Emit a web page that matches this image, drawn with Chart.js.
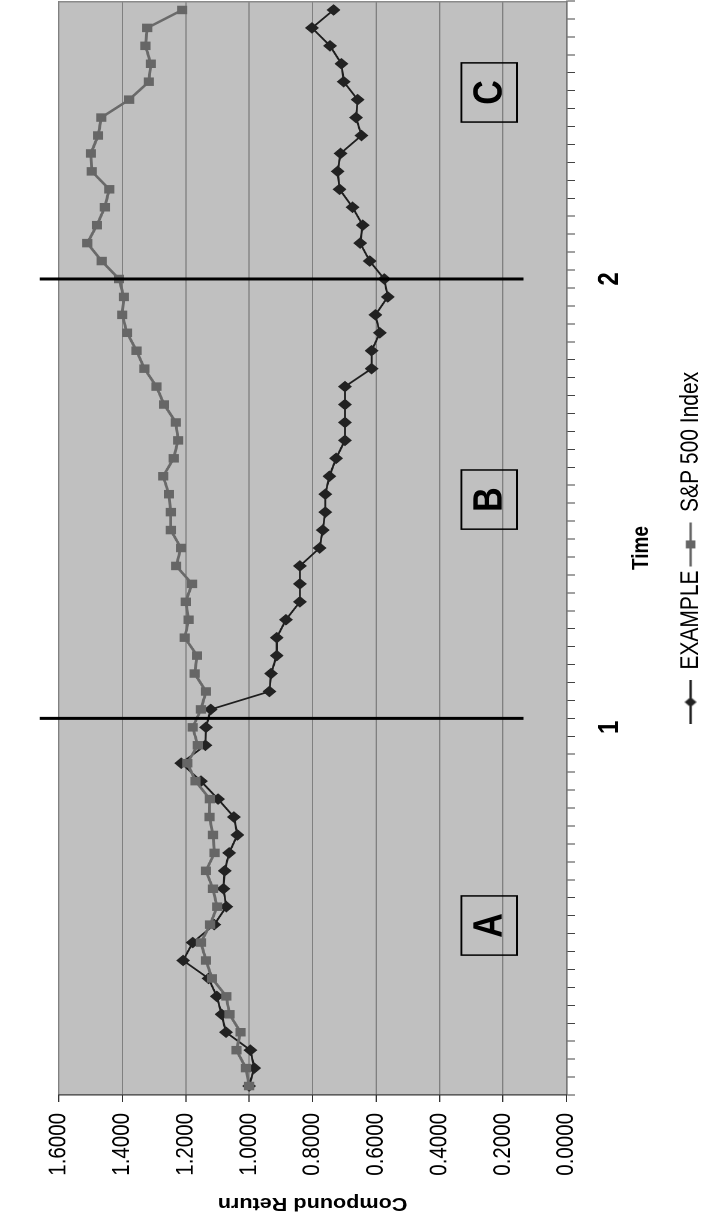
<!DOCTYPE html>
<html>
<head>
<meta charset="utf-8">
<script src="https://cdn.jsdelivr.net/npm/chart.js@4.4.0/dist/chart.umd.min.js"></script>
<style>
  html, body { margin: 0; padding: 0; background: #fff; width: 709px; height: 1221px; overflow: hidden; }
  /* the chart is laid out landscape and turned a quarter turn, with a slight stretch across */
  #wrap { position: absolute; left: 0; top: 0; width: 1221px; height: 591px;
          transform-origin: 0 0; transform: matrix(0, -1, 1.2, 0, 0, 1221); }
</style>
</head>
<body>
<div id="wrap"><canvas id="c" width="1221" height="591"></canvas></div>
<script>
// Time periods (only two of them carry a label)
const timeLabels = [
  '', '', '', '', '', '', '', '', '', '',
  '', '', '', '', '', '', '', '', '', '',
  '1', '', '', '', '', '', '', '', '', '',
  '', '', '', '', '', '', '', '', '', '',
  '', '', '', '', '', '2', '', '', '', '',
  '', '', '', '', '', '', '', '', '', '',
  ''
];

// Compound return of the example portfolio
const exampleReturns = [
  1.000, 0.984, 0.996, 1.073, 1.087, 1.102, 1.128, 1.208, 1.178, 1.110,
  1.072, 1.081, 1.077, 1.063, 1.037, 1.048, 1.098, 1.152, 1.214, 1.138,
  1.136, 1.121, 0.936, 0.931, 0.913, 0.913, 0.884, 0.840, 0.840, 0.840,
  0.778, 0.768, 0.760, 0.760, 0.747, 0.726, 0.698, 0.698, 0.698, 0.698,
  0.614, 0.614, 0.588, 0.602, 0.563, 0.574, 0.620, 0.650, 0.642, 0.674,
  0.715, 0.721, 0.712, 0.646, 0.663, 0.658, 0.702, 0.709, 0.745, 0.802,
  0.734
];

// Compound return of the S&P 500 Index
const sp500Returns = [
  1.000, 1.010, 1.040, 1.027, 1.062, 1.072, 1.117, 1.136, 1.152, 1.123,
  1.101, 1.114, 1.136, 1.109, 1.114, 1.125, 1.124, 1.169, 1.195, 1.162,
  1.178, 1.152, 1.136, 1.172, 1.164, 1.203, 1.191, 1.200, 1.180, 1.230,
  1.215, 1.247, 1.247, 1.253, 1.271, 1.238, 1.224, 1.231, 1.268, 1.292,
  1.330, 1.355, 1.385, 1.400, 1.395, 1.410, 1.465, 1.510, 1.480, 1.455,
  1.441, 1.496, 1.499, 1.476, 1.466, 1.378, 1.316, 1.310, 1.327, 1.321,
  1.211
];

const seriesNames = ['EXAMPLE', 'S&P 500 Index'];

// Phase markers: period positions of the dividing lines and the lettered boxes
const phaseBreaks = [20.5, 45];
const phaseLetters = ['A', 'B', 'C'];
const phaseCenters = [8.95, 32.7, 55.4];

const FONT = "'Liberation Sans', Arial, sans-serif";

function legendGlyph(kind, fill, line) {
  const c = document.createElement('canvas');
  c.width = 44; c.height = 14;
  const g = c.getContext('2d');
  g.strokeStyle = line; g.lineWidth = 2;
  g.beginPath(); g.moveTo(0, 7); g.lineTo(44, 7); g.stroke();
  g.fillStyle = fill;
  if (kind === 'diamond') {
    g.beginPath(); g.moveTo(22, 2); g.lineTo(27, 7); g.lineTo(22, 12); g.lineTo(17, 7); g.closePath(); g.fill();
  } else {
    g.fillRect(18, 3, 8, 8);
  }
  return c;
}
const glyphs = [legendGlyph('diamond', '#222', '#222'), legendGlyph('square', '#666', '#666')];

const phaseOverlay = {
  id: 'phaseOverlay',
  beforeDraw(chart) {
    const { ctx, chartArea: a } = chart;
    ctx.save();
    ctx.fillStyle = '#c0c0c0';
    ctx.fillRect(a.left, a.top, a.width, a.height);
    ctx.restore();
  },
  afterDraw(chart) {
    const { ctx, chartArea: a, scales: { x, y } } = chart;
    ctx.save();
    // far edge of the plot frame
    ctx.strokeStyle = '#8a8a8a';
    ctx.lineWidth = 1.5;
    ctx.beginPath(); ctx.moveTo(a.right - 0.75, a.top); ctx.lineTo(a.right - 0.75, a.bottom); ctx.stroke();

    // dividing lines between the phases
    ctx.strokeStyle = '#000';
    ctx.lineWidth = 3;
    phaseBreaks.forEach(p => {
      const px = x.getPixelForValue(p);
      ctx.beginPath();
      ctx.moveTo(px, y.getPixelForValue(1.66));
      ctx.lineTo(px, y.getPixelForValue(0.135));
      ctx.stroke();
    });

    // lettered boxes
    ctx.lineWidth = 1.5;
    ctx.fillStyle = '#000';
    ctx.font = 'bold 34px ' + FONT;
    ctx.textAlign = 'center';
    ctx.textBaseline = 'middle';
    phaseLetters.forEach((t, i) => {
      const l = x.getPixelForValue(phaseCenters[i] - 1.65);
      const r = x.getPixelForValue(phaseCenters[i] + 1.65);
      const top = y.getPixelForValue(0.331);
      const bot = y.getPixelForValue(0.156);
      ctx.strokeRect(l, top, r - l, bot - top);
      ctx.fillText(t, (l + r) / 2, (top + bot) / 2 + 1);
    });
    ctx.restore();
  }
};

new Chart(document.getElementById('c'), {
  type: 'line',
  data: {
    labels: timeLabels,
    datasets: [
      {
        label: seriesNames[0],
        data: exampleReturns,
        order: 1,
        borderColor: '#1e1e1e',
        borderWidth: 1.7,
        pointStyle: 'rectRot',
        pointRadius: 5.8,
        pointBackgroundColor: '#222',
        pointBorderColor: '#222',
        pointBorderWidth: 0,
        tension: 0
      },
      {
        label: seriesNames[1],
        data: sp500Returns,
        order: 0,
        borderColor: '#6a6a6a',
        borderWidth: 2.4,
        pointStyle: 'rect',
        pointRadius: 6,
        pointBackgroundColor: '#666',
        pointBorderColor: '#666',
        pointBorderWidth: 0,
        tension: 0
      }
    ]
  },
  options: {
    responsive: false,
    animation: false,
    devicePixelRatio: 2,
    events: [],
    layout: { autoPadding: false, padding: { top: 49, right: 1, left: 0, bottom: -5 } },
    plugins: {
      tooltip: { enabled: false },
      legend: {
        position: 'bottom',
        fullSize: false,
        labels: {
          usePointStyle: true,
          pointStyleWidth: 44,
          padding: 4,
          color: '#000',
          font: { family: FONT, size: 21 },
          generateLabels: chart => chart.data.datasets.map((ds, i) => ({
            text: ds.label,
            pointStyle: glyphs[i],
            fillStyle: 'transparent',
            strokeStyle: 'transparent',
            lineWidth: 0,
            hidden: false,
            datasetIndex: i,
            fontColor: '#000'
          }))
        }
      }
    },
    scales: {
      x: {
        type: 'category',
        offset: true,
        afterFit: s => { s.height = 89; s.paddingLeft = 0; s.paddingRight = 0; },
        border: { display: true, color: '#777', width: 1.5 },
        grid: { offset: true, drawOnChartArea: false, drawTicks: true, tickLength: 7, tickColor: '#444', lineWidth: 1 },
        ticks: {
          autoSkip: false, maxRotation: 0, minRotation: 0, padding: 15,
          color: '#000', font: { family: FONT, size: 24, weight: 'bold' }
        },
        title: {
          display: true, text: 'Time', color: '#000',
          padding: { top: 0, bottom: 15 },
          font: { family: FONT, size: 19, weight: 'bold' }
        }
      },
      y: {
        min: 0,
        max: 1.6,
        afterFit: s => { s.width = 126; },
        border: { display: true, color: '#333', width: 1.2 },
        grid: { color: '#808080', lineWidth: 1, drawTicks: true, tickLength: 7, tickColor: '#333' },
        ticks: {
          stepSize: 0.2, padding: 11, color: '#000',
          font: { family: FONT, size: 20.5 },
          callback: v => Number(v).toFixed(4)
        },
        title: {
          display: true, text: 'Compound Return', color: '#000',
          padding: { top: 7, bottom: 0 },
          font: { family: FONT, size: 18, weight: 'bold' }
        }
      }
    }
  },
  plugins: [phaseOverlay]
});
</script>
</body>
</html>
